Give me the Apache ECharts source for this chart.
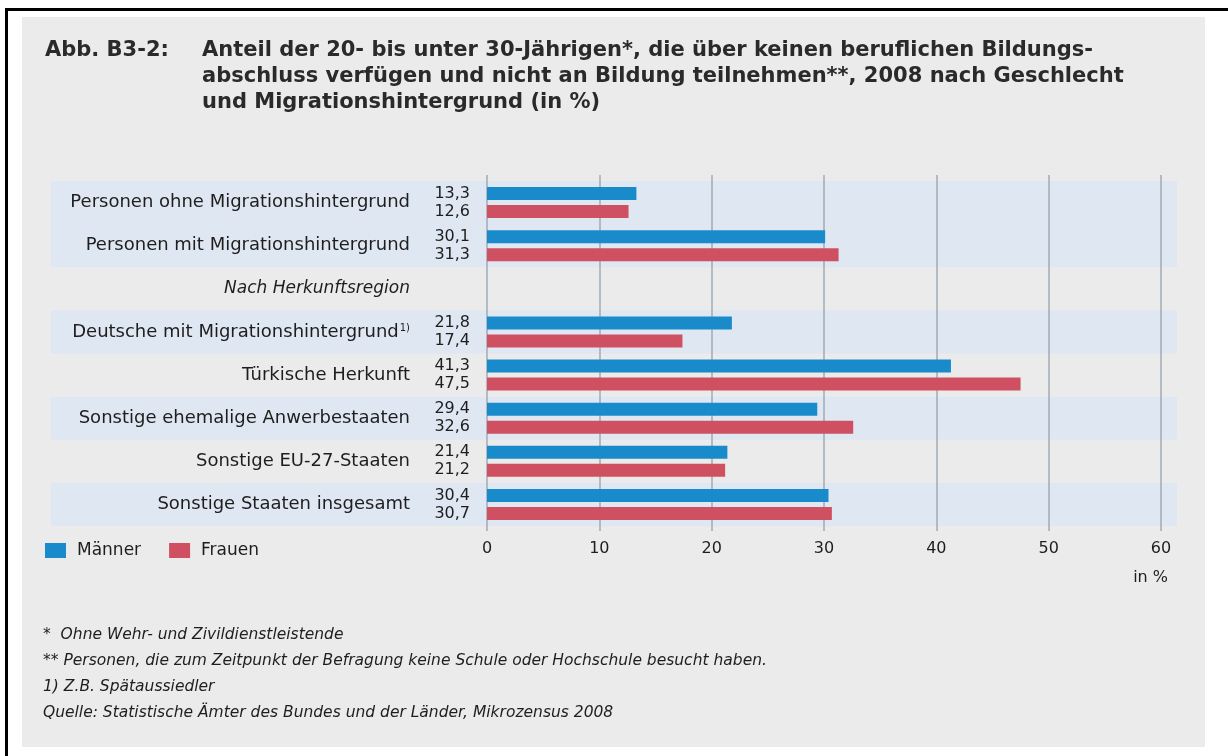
<!DOCTYPE html>
<html>
<head>
<meta charset="utf-8">
<title>Abb. B3-2</title>
<script src="https://cdn.jsdelivr.net/npm/echarts@6/dist/echarts.min.js"></script>
<style>
  html, body { margin: 0; padding: 0; background: #fff; }
  .box { position: absolute; }
  #panel { left: 22px; top: 17px; width: 1183px; height: 730px; background: #ebebeb; }
  #lineTop { left: 5px; top: 8px; width: 1223px; height: 3px; background: #000; }
  #lineLeft { left: 5px; top: 8px; width: 3px; height: 748px; background: #000; }
  #chart { left: 0; top: 0; width: 1228px; height: 756px; }
</style>
</head>
<body>
<div class="box" id="panel"></div>
<div class="box" id="lineTop"></div>
<div class="box" id="lineLeft"></div>
<div class="box" id="chart"></div>
<script>
// Werte aus der Abbildung (in %)
const kategorien = [
  "Personen ohne Migrationshintergrund",
  "Personen mit Migrationshintergrund",
  "Nach Herkunftsregion",
  "Deutsche mit Migrationshintergrund",
  "Türkische Herkunft",
  "Sonstige ehemalige Anwerbestaaten",
  "Sonstige EU-27-Staaten",
  "Sonstige Staaten insgesamt"
];
const maenner = [13.3, 30.1, null, 21.8, 41.3, 29.4, 21.4, 30.4];
const frauen  = [12.6, 31.3, null, 17.4, 47.5, 32.6, 21.2, 30.7];
const ticks = [0, 10, 20, 30, 40, 50, 60];

const FONT = "'DejaVu Sans', 'Liberation Sans', sans-serif";
const TXT = "#1e1e1e";
const BAND = "#dfe7f2";
const GRIDC = "#a2abb4";

let chart = echarts.init(document.getElementById("chart"));

// hellblaue Zeilenhinterlegung, je Kategorie
const bandFarben = [BAND, BAND, "rgba(0,0,0,0)", BAND, "rgba(0,0,0,0)", BAND, "rgba(0,0,0,0)", BAND];

const wert = p => p.value.toFixed(1).replace(".", ",");

chart.setOption({
  textStyle: { fontFamily: FONT },
  title: [
    {
      text: "Abb. B3-2:",
      left: 40, top: 33,
      textStyle: { fontFamily: FONT, fontSize: 21, fontWeight: "bold", color: "#2a2a2a", lineHeight: 26 }
    },
    {
      text: "Anteil der 20- bis unter 30-Jährigen*, die über keinen beruflichen Bildungs-\nabschluss verfügen und nicht an Bildung teilnehmen**, 2008 nach Geschlecht\nund Migrationshintergrund (in %)",
      left: 197, top: 33,
      textStyle: { fontFamily: FONT, fontSize: 21, fontWeight: "bold", color: "#2a2a2a", lineHeight: 26 }
    },
    {
      text: "*  Ohne Wehr- und Zivildienstleistende\n** Personen, die zum Zeitpunkt der Befragung keine Schule oder Hochschule besucht haben.\n1) Z.B. Spätaussiedler\nQuelle: Statistische Ämter des Bundes und der Länder, Mikrozensus 2008",
      left: 38, top: 617,
      textStyle: { fontFamily: FONT, fontSize: 15.5, fontStyle: "italic", fontWeight: "normal", color: TXT, lineHeight: 26 }
    }
  ],
  legend: {
    data: ["Männer", "Frauen"],
    left: 45, top: 542, padding: 0,
    icon: "rect", itemWidth: 21, itemHeight: 15, itemGap: 28,
    textStyle: { fontFamily: FONT, fontSize: 17, color: TXT, padding: [0, 0, 0, 6] }
  },
  grid: [
    { left: 51, right: 51, top: 181, bottom: 230 },   // Hinterlegung
    { left: 487, right: 67, top: 181, bottom: 230 }   // Balken
  ],
  xAxis: [
    { gridIndex: 0, type: "value", min: 0, max: 1, show: false },
    {
      gridIndex: 1, type: "value", position: "bottom",
      min: ticks[0], max: ticks[ticks.length - 1], interval: 10,
      axisLine: { show: false },
      axisTick: { show: true, length: 5, lineStyle: { color: GRIDC, width: 1.5 } },
      axisLabel: { margin: 15, fontSize: 16, color: TXT, fontFamily: FONT },
      splitLine: { show: true, showMinLine: true, showMaxLine: true, lineStyle: { color: GRIDC, width: 1.5 } },
      name: "in %", nameLocation: "end", nameGap: 7,
      nameTextStyle: { align: "right", verticalAlign: "top", padding: [44, 0, 0, 0], fontSize: 16, color: TXT, fontFamily: FONT }
    },
    {
      gridIndex: 1, type: "value", position: "top",
      min: ticks[0], max: ticks[ticks.length - 1], interval: 10,
      axisLine: { show: false },
      axisTick: { show: true, length: 6, lineStyle: { color: GRIDC, width: 1.5 } },
      axisLabel: { show: false },
      splitLine: { show: false }
    }
  ],
  yAxis: [
    {
      gridIndex: 0, type: "category", inverse: true, data: kategorien,
      axisLine: { show: false }, axisTick: { show: false }, axisLabel: { show: false },
      splitLine: { show: false },
      splitArea: { show: true, interval: 0, areaStyle: { color: bandFarben } }
    },
    {
      gridIndex: 1, type: "category", inverse: true, data: kategorien,
      axisLine: { show: false }, axisTick: { show: false },
      axisLabel: {
        margin: 77, fontSize: 18, color: TXT, fontFamily: FONT,
        formatter: function (v, i) {
          if (i === 2) return "{i|" + v + "}";
          if (i === 3) return v + "{s|1)}";
          return v;
        },
        rich: {
          i: { fontStyle: "italic", fontSize: 17, color: TXT, fontFamily: FONT },
          s: { fontSize: 10, color: TXT, fontFamily: FONT, verticalAlign: "top", padding: [0, 0, 8, 1] }
        }
      }
    }
  ],
  series: [
    {
      name: "Männer", type: "bar", xAxisIndex: 1, yAxisIndex: 1,
      data: maenner, barWidth: 13, barGap: "38%",
      itemStyle: { color: "#1a8bca" },
      label: { show: true, position: "left", distance: 17, fontSize: 16, color: TXT, fontFamily: FONT, formatter: wert }
    },
    {
      name: "Frauen", type: "bar", xAxisIndex: 1, yAxisIndex: 1,
      data: frauen, barWidth: 13,
      itemStyle: { color: "#cf5061" },
      label: { show: true, position: "left", distance: 17, fontSize: 16, color: TXT, fontFamily: FONT, formatter: wert }
    }
  ]
});
</script>
</body>
</html>
